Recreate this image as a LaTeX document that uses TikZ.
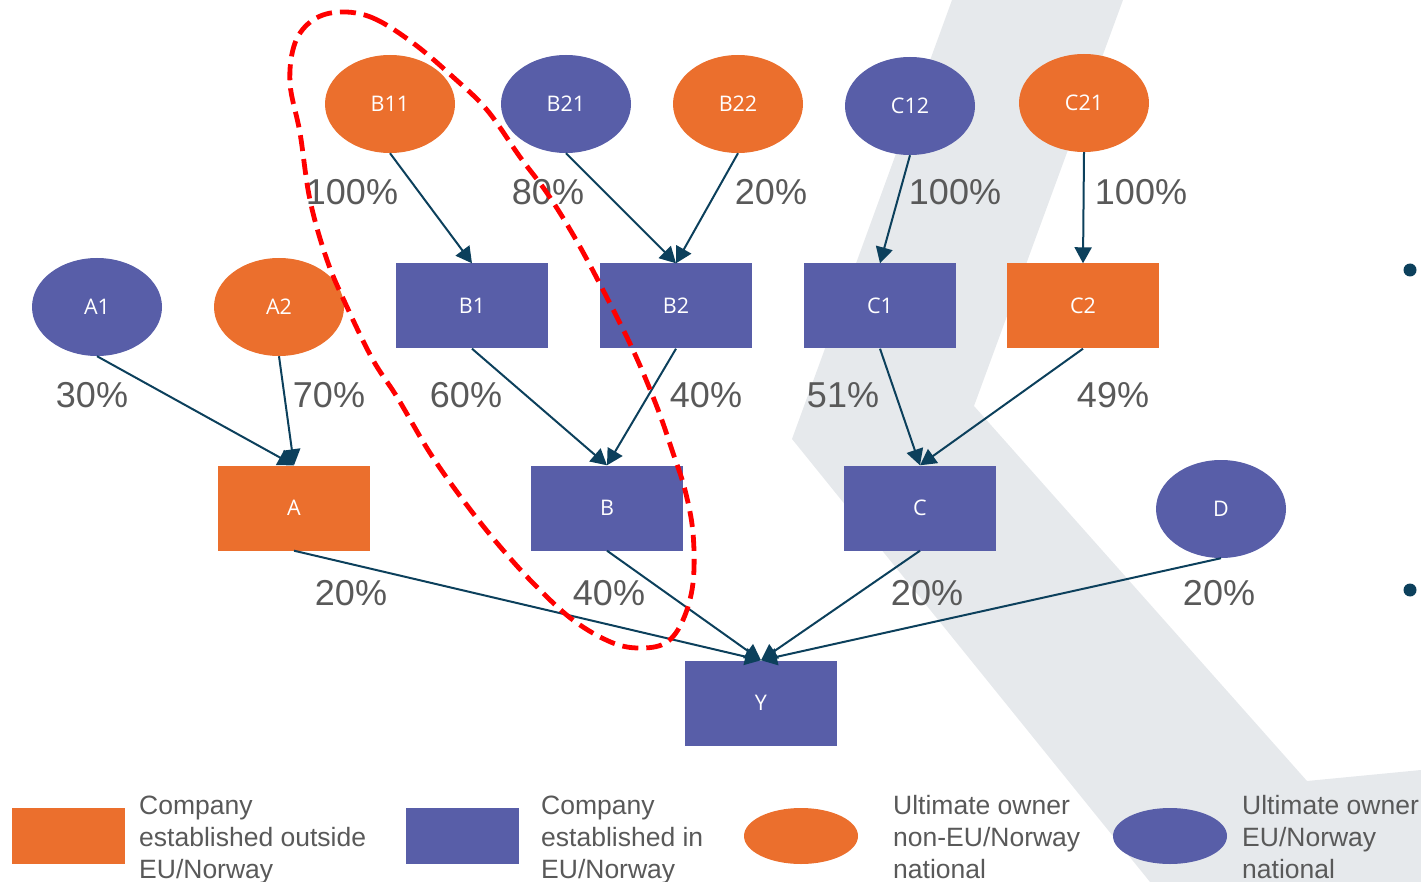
\documentclass[tikz,border=0pt]{standalone}
\usepackage{fontspec}
\setmainfont{Liberation Sans}
\newfontfamily\nodefont{Open Sans}
\usetikzlibrary{arrows.meta,shapes.geometric}
\definecolor{orng}{HTML}{EB6F2D}
\definecolor{purp}{HTML}{585EA8}
\definecolor{edgec}{HTML}{0C405C}
\definecolor{txtg}{HTML}{595959}
\definecolor{bgray}{HTML}{E6E9EC}
\definecolor{redd}{HTML}{FF0000}
\begin{document}
\begin{tikzpicture}[x=1pt,y=-1pt,
  co/.style={rectangle, minimum width=152pt, minimum height=85pt, inner sep=0pt, text=white, font=\nodefont\fontsize{21.5}{25}\selectfont},
  own/.style={ellipse, minimum width=130pt, minimum height=98pt, inner sep=0pt, text=white, font=\nodefont\fontsize{21.5}{25}\selectfont},
  arr/.style={draw=edgec, line width=2pt, -{Triangle[length=16pt,width=17pt]}},
  pct/.style={text=txtg, inner sep=0pt, anchor=base, font=\fontsize{36}{40}\selectfont},
  leg/.style={text=txtg, inner sep=0pt, anchor=base west, font=\fontsize{26.5}{32}\selectfont},
  legrect/.style={rectangle, minimum width=113pt, minimum height=56pt, inner sep=0pt},
  legell/.style={ellipse, minimum width=114pt, minimum height=56pt, inner sep=0pt},
  bullet/.style={circle, fill=edgec, minimum size=13pt, inner sep=0pt}
]
\useasboundingbox (0,0) rectangle (1421,882);
% background shape
\fill[bgray] (952,0) -- (1123,0) -- (974,406) -- (1307,781) -- (1421,770) -- (1421,882) -- (1150,882) -- (792,439) -- cycle;

% owners
\node[own, fill=orng] (B11) at (390,104) {B11};
\node[own, fill=purp] (B21) at (566,104) {B21};
\node[own, fill=orng] (B22) at (738,104) {B22};
\node[own, fill=purp] (C12) at (910,106) {C12};
\node[own, fill=orng] (C21) at (1084,103) {C21};
\node[own, fill=purp] (A1) at (97,307) {A1};
\node[own, fill=orng] (A2) at (279,307) {A2};
\node[own, fill=purp] (D) at (1221,509) {D};

% companies
\node[co, fill=purp] (B1) at (472,306) {B1};
\node[co, fill=purp] (B2) at (676,306) {B2};
\node[co, fill=purp] (C1) at (880,306) {C1};
\node[co, fill=orng] (C2) at (1083,306) {C2};
\node[co, fill=orng] (A) at (294,508) {A};
\node[co, fill=purp] (B) at (607,508) {B};
\node[co, fill=purp] (C) at (920,508) {C};
\node[co, fill=purp] (Y) at (761,703) {Y};

% connectors
\draw[arr] (B11.south) -- (B1.north);
\draw[arr] (B21.south) -- (B2.north);
\draw[arr] (B22.south) -- (B2.north);
\draw[arr] (C12.south) -- (C1.north);
\draw[arr] (C21.south) -- (C2.north);
\draw[arr] (A1.south) -- (A.north);
\draw[arr] (A2.south) -- (A.north);
\draw[arr] (B1.south) -- (B.north);
\draw[arr] (B2.south) -- (B.north);
\draw[arr] (C1.south) -- (C.north);
\draw[arr] (C2.south) -- (C.north);
\draw[arr] (A.south) -- (Y.north);
\draw[arr] (B.south) -- (Y.north);
\draw[arr] (C.south) -- (Y.north);
\draw[arr] (D.south) -- (Y.north);

% percentages
\node[pct] (p1) at (352,205) {100\%};
\node[pct] (p2) at (548,205) {80\%};
\node[pct] (p3) at (771,205) {20\%};
\node[pct] (p4) at (955,205) {100\%};
\node[pct] (p5) at (1141,205) {100\%};
\node[pct] (p6) at (92,407) {30\%};
\node[pct] (p7) at (329,407) {70\%};
\node[pct] (p8) at (466,407) {60\%};
\node[pct] (p9) at (706,407) {40\%};
\node[pct] (p10) at (843,407) {51\%};
\node[pct] (p11) at (1113,407) {49\%};
\node[pct] (p12) at (351,605) {20\%};
\node[pct] (p13) at (609,605) {40\%};
\node[pct] (p14) at (927,605) {20\%};
\node[pct] (p15) at (1219,605) {20\%};

% bullets
\node[bullet] (bu1) at (1410,270) {};
\node[bullet] (bu2) at (1410,590) {};

% red dashed loop
\draw[redd, line width=4.8pt, dash pattern=on 16pt off 8pt] plot[smooth cycle, tension=0.6] coordinates {
(340,12) (373,18) (413,43) (453,77) (487,110) (520,157) (547,193) (575,238) (603,290) (633,350) (657,407) (673,453) (685,490) (693,533) (693,583) (683,620) (667,642) (643,648) (613,643) (573,620) (533,583) (497,543) (463,500) (430,453) (397,397) (373,360) (347,307) (327,260) (310,200) (300,133) (290,83) (295,43) (313,20)};

% legend
\node[legrect, fill=orng] (lg1) at (68,836) {};
\node[legrect, fill=purp] (lg2) at (462,836) {};
\node[legell, fill=orng] (lg3) at (801,836) {};
\node[legell, fill=purp] (lg4) at (1170,836) {};

\node[leg] (t1a) at (139,814) {Company};
\node[leg] (t1b) at (139,846) {established outside};
\node[leg] (t1c) at (139,878) {EU/Norway};
\node[leg] (t2a) at (541,814) {Company};
\node[leg] (t2b) at (541,846) {established in};
\node[leg] (t2c) at (541,878) {EU/Norway};
\node[leg] (t3a) at (893,814) {Ultimate owner};
\node[leg] (t3b) at (893,846) {non-EU/Norway};
\node[leg] (t3c) at (893,878) {national};
\node[leg] (t4a) at (1242,814) {Ultimate owner};
\node[leg] (t4b) at (1242,846) {EU/Norway};
\node[leg] (t4c) at (1242,878) {national};
\end{tikzpicture}
\end{document}
